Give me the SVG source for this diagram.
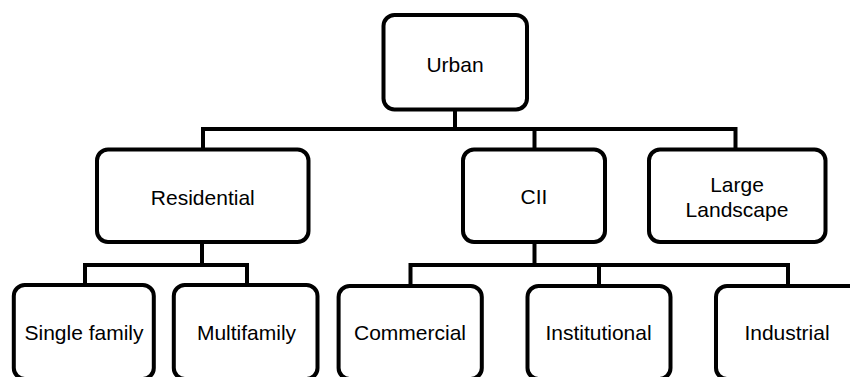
<svg xmlns="http://www.w3.org/2000/svg" width="850" height="377" viewBox="0 0 850 377">
<style>
.box{fill:#fff;stroke:#000;stroke-width:4}
.lbl{font-family:"Liberation Sans",Arial,sans-serif;font-size:21px;fill:#000;text-anchor:middle}
.conn{fill:none;stroke:#000;stroke-width:4;stroke-linejoin:miter;stroke-linecap:butt}
</style>
<rect width="850" height="377" fill="#fff"/>
<g id="connectors">
<path class="conn" d="M455,109.5 V129"/>
<path class="conn" d="M203,149.5 V129 H735.5 V149.5"/>
<path class="conn" d="M534.5,129 V149.5"/>
<path class="conn" d="M202,242 V265"/>
<path class="conn" d="M85,285 V265 H247 V285"/>
<path class="conn" d="M534.5,242 V265"/>
<path class="conn" d="M410.5,286 V265 H788 V286"/>
<path class="conn" d="M599,265 V286"/>
</g>
<g id="urban">
<rect class="box" x="383.5" y="15" width="143.5" height="94.5" rx="11"/>
<text class="lbl" x="455" y="71.5">Urban</text>
</g>
<g id="residential">
<rect class="box" x="97" y="149.5" width="211.5" height="92.5" rx="11"/>
<text class="lbl" x="202.8" y="205">Residential</text>
</g>
<g id="cii">
<rect class="box" x="463" y="149.5" width="142" height="92.5" rx="11"/>
<text class="lbl" x="534" y="204">CII</text>
</g>
<g id="large-landscape">
<rect class="box" x="649" y="149.5" width="176.5" height="92.5" rx="11"/>
<text class="lbl" x="737" y="191.7">Large</text>
<text class="lbl" x="737" y="216.7">Landscape</text>
</g>
<g id="single-family">
<rect class="box" x="13.8" y="285" width="140" height="94" rx="11"/>
<text class="lbl" x="84" y="340">Single family</text>
</g>
<g id="multifamily">
<rect class="box" x="173.8" y="285" width="143.7" height="94" rx="11"/>
<text class="lbl" x="246.5" y="340">Multifamily</text>
</g>
<g id="commercial">
<rect class="box" x="338.6" y="286" width="143.2" height="93" rx="11"/>
<text class="lbl" x="410" y="340.4">Commercial</text>
</g>
<g id="institutional">
<rect class="box" x="527.5" y="286" width="143" height="93" rx="11"/>
<text class="lbl" x="598.5" y="340.4">Institutional</text>
</g>
<g id="industrial">
<rect class="box" x="716" y="286" width="144" height="93" rx="11"/>
<text class="lbl" x="787" y="340.4">Industrial</text>
</g>
</svg>
